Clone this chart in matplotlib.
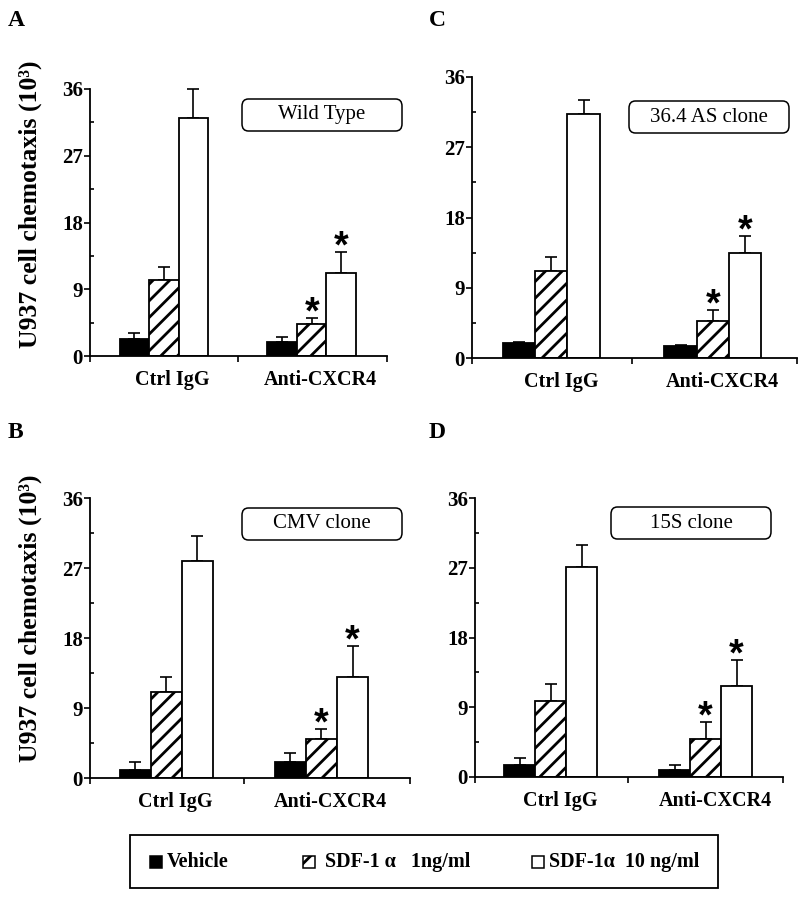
import matplotlib
matplotlib.use("Agg")
import numpy as np
import matplotlib.pyplot as plt
from matplotlib.patches import Rectangle, FancyBboxPatch

plt.rcParams["font.family"] = ["Liberation Serif", "DejaVu Serif"]
plt.rcParams["hatch.linewidth"] = 2.0
plt.rcParams["hatch.color"] = "black"

W, H = 800, 898

# ---- data (values in 10^3 cells) ----
groups = ["Ctrl IgG", "Anti-CXCR4"]
series_names = ["Vehicle", "SDF-1 \u03b1   1ng/ml", "SDF-1\u03b1  10 ng/ml"]

# Panel A - Wild Type
a_vehicle = [2.3, 1.9]
a_vehicle_err = [0.8, 0.6]
a_sdf1 = [10.3, 4.3]
a_sdf1_err = [1.7, 0.8]
a_sdf10 = [32.1, 11.2]
a_sdf10_err = [3.9, 2.8]

# Panel C - 36.4 AS clone
c_vehicle = [1.9, 1.6]
c_vehicle_err = [0.2, 0.05]
c_sdf1 = [11.1, 4.7]
c_sdf1_err = [1.9, 1.4]
c_sdf10 = [31.2, 13.5]
c_sdf10_err = [1.8, 2.1]

# Panel B - CMV clone
b_vehicle = [1.0, 2.0]
b_vehicle_err = [1.0, 1.2]
b_sdf1 = [11.1, 5.0]
b_sdf1_err = [1.9, 1.3]
b_sdf10 = [27.9, 13.0]
b_sdf10_err = [3.2, 4.0]

# Panel D - 15S clone
d_vehicle = [1.5, 0.9]
d_vehicle_err = [0.9, 0.6]
d_sdf1 = [9.8, 4.9]
d_sdf1_err = [2.2, 2.2]
d_sdf10 = [27.1, 11.8]
d_sdf10_err = [2.9, 3.3]

# significance marks: (series index, group index)
stars = [(1, 1), (2, 1)]

yticks = [0, 9, 18, 27, 36]


def fx(x):
    return x / W


def fy(y):
    return 1 - y / H


def draw_panel(rect, xlim, letter, letter_xy, box_text, box_xy, values, errs, ylabel=False):
    left, top, right, bottom = rect
    ax = fig.add_axes([fx(left), fy(bottom), (right - left) / W, (bottom - top) / H])
    x = np.array([0.0, 5.0])
    styles = [dict(color="black"),
              dict(color="white", hatch="//"),
              dict(color="white")]
    for i, (vals, err, st) in enumerate(zip(values, errs, styles)):
        xi = x + (i - 1)
        ax.bar(xi, vals, width=1.0, edgecolor="black", linewidth=1.3, zorder=2, **st)
        ax.errorbar(xi, vals, yerr=[np.zeros(len(vals)), err], fmt="none",
                    ecolor="black", elinewidth=1.2, capsize=4, capthick=1.2,
                    zorder=1, clip_on=False)
        for si, gi in stars:
            if si == i:
                ax.annotate("*", xy=(xi[gi], vals[gi] + err[gi]), xytext=(0, -4),
                            textcoords="offset points", ha="center", va="baseline",
                            fontsize=27, fontweight="bold", family="Liberation Sans")
    ax.set_xlim(*xlim)
    ax.set_ylim(0, 36)
    for s in ["top", "right"]:
        ax.spines[s].set_visible(False)
    for s in ["left", "bottom"]:
        ax.spines[s].set_linewidth(1.3)
    ax.set_yticks(yticks)
    ax.set_yticklabels([str(t) for t in yticks], fontsize=15, fontweight="bold")
    ax.set_yticks([4.5, 13.5, 22.5, 31.5], minor=True)
    ax.tick_params(axis="y", which="major", direction="out", length=4, width=1.2, pad=1)
    ax.tick_params(axis="y", which="minor", direction="in", length=3, width=1.2)
    ax.set_xticks([xlim[0], 2.5, xlim[1]])
    ax.set_xticklabels([])
    ax.tick_params(axis="x", which="major", direction="out", length=4, width=1.2)
    ax.set_xticks([0.3, 5.3], minor=True)
    ax.set_xticklabels(groups, minor=True, fontsize=14.5, fontweight="bold")
    ax.tick_params(axis="x", which="minor", length=0, pad=10)
    if ylabel:
        ax.set_ylabel("U937 cell chemotaxis (10\u00b3)", fontsize=18.5, fontweight="bold")
        ax.yaxis.set_label_coords((42 - left) / (right - left), 0.57)
    fig.text(fx(letter_xy[0]), fy(letter_xy[1]), letter, fontsize=17, fontweight="bold",
             ha="center", va="center")
    bx, by = box_xy
    bw, bh = 160, 32
    fig.patches.append(FancyBboxPatch((fx(bx - bw / 2), fy(by + bh / 2)), bw / W, bh / H,
                                      boxstyle="round,pad=0,rounding_size=0.008",
                                      transform=fig.transFigure, facecolor="white",
                                      edgecolor="black", linewidth=1.1, zorder=5))
    fig.text(fx(bx), fy(by), box_text, fontsize=15, ha="center", va="center", zorder=6)
    return ax


fig = plt.figure(figsize=(W / 100, H / 100), dpi=100)

draw_panel((90, 89, 387, 356), (-2.5, 7.55), "A", (16, 21), "Wild Type", (322, 115),
           [a_vehicle, a_sdf1, a_sdf10], [a_vehicle_err, a_sdf1_err, a_sdf10_err], ylabel=True)
draw_panel((472, 77, 797, 358), (-2.45, 7.6), "C", (437, 21), "36.4 AS clone", (709, 117),
           [c_vehicle, c_sdf1, c_sdf10], [c_vehicle_err, c_sdf1_err, c_sdf10_err])
draw_panel((90, 498, 410, 778), (-2.45, 7.85), "B", (15, 432), "CMV clone", (322, 524),
           [b_vehicle, b_sdf1, b_sdf10], [b_vehicle_err, b_sdf1_err, b_sdf10_err], ylabel=True)
draw_panel((475, 498, 783, 777), (-2.45, 7.5), "D", (437, 432), "15S clone", (691, 523),
           [d_vehicle, d_sdf1, d_sdf10], [d_vehicle_err, d_sdf1_err, d_sdf10_err])

# legend box
box_l, box_r, box_t, box_b = 130, 718, 835, 888
fig.patches.append(Rectangle((fx(box_l), fy(box_b)), (box_r - box_l) / W, (box_b - box_t) / H,
                             transform=fig.transFigure, facecolor="white",
                             edgecolor="black", linewidth=1.3))
legend_sq = [(150, dict(facecolor="black")),
             (303, dict(facecolor="white", hatch="/")),
             (532, dict(facecolor="white"))]
legend_tx = [167, 325, 549]
for (sx, st), tx, name in zip(legend_sq, legend_tx, series_names):
    fig.patches.append(Rectangle((fx(sx), fy(868)), 12 / W, 12 / H, transform=fig.transFigure,
                                 edgecolor="black", linewidth=1.1, **st))
    fig.text(fx(tx), fy(862), name, fontsize=14.5, fontweight="bold", ha="left", va="center")

fig.savefig("out.png", dpi=100)
